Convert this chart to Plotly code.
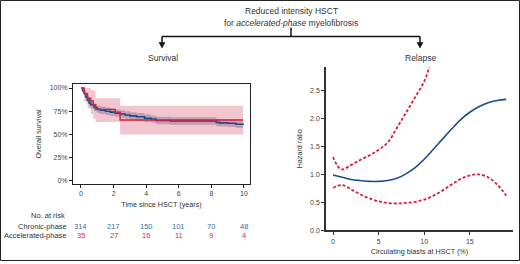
import plotly.graph_objects as go

W, H = 520, 264

# ---------------- Data ----------------
# Kaplan-Meier: chronic-phase
cp_time = [0, 0.1, 0.2, 0.3, 0.4, 0.5, 0.6, 0.8, 1.0, 1.2, 1.5, 1.8, 2.1, 2.4, 2.7, 3.0, 3.4, 3.9, 4.3, 4.6, 5.5, 6.5, 7.5, 8.3, 8.5, 9.0, 9.5, 9.95]
cp_surv = [100, 97, 94, 90, 87, 84, 82, 79, 77, 76, 75, 74, 73, 72, 71, 70, 69, 67.5, 66.5, 65, 64.5, 64.5, 64.5, 63, 62.5, 62, 61, 60.5]
cp_upper = [100, 99, 97, 94, 91, 88, 86, 83, 81, 80, 79, 78, 77, 76, 75, 74, 73, 71.5, 70.5, 69, 68.5, 68.5, 68.5, 67, 66.5, 66, 65, 64.5]
cp_lower = [100, 95, 91, 86, 83, 80, 78, 75, 73, 72, 71, 70, 69, 68, 67, 66, 65, 63.5, 62.5, 61, 60.5, 60.5, 60.5, 59, 58.5, 58, 57, 56.5]

# Kaplan-Meier: accelerated-phase
ap_time = [0, 0.2, 0.4, 0.6, 0.75, 0.9, 2.1, 2.4, 9.95]
ap_surv = [100, 94, 89, 86, 82, 77, 74, 65.5, 65.5]
ap_upper = [100, 100, 100, 98, 97, 89, 89, 81, 81]
ap_lower = [100, 85, 78, 72, 67, 63.5, 63.5, 50, 50]

# Number at risk
risk_times = [0, 2, 4, 6, 8, 10]
risk_chronic = [314, 217, 150, 101, 70, 48]
risk_accel = [35, 27, 16, 11, 9, 4]

# Hazard ratio vs circulating blasts
blasts = [0, 1, 2, 3, 4, 5, 6, 7, 8, 9, 10, 11, 12, 13, 14, 15, 16, 17, 18, 19]
hr = [0.99, 0.95, 0.91, 0.89, 0.875, 0.875, 0.89, 0.93, 1.01, 1.12, 1.27, 1.45, 1.63, 1.81, 1.98, 2.11, 2.21, 2.28, 2.32, 2.34]
hr_up_x = [0, 0.9, 2, 3, 4, 5, 6, 7, 8, 9, 10, 10.6, 11]
hr_upper = [1.31, 1.09, 1.17, 1.26, 1.34, 1.44, 1.57, 1.83, 2.1, 2.38, 2.66, 2.93, 3.1]
hr_lower = [0.76, 0.81, 0.73, 0.64, 0.57, 0.52, 0.49, 0.48, 0.49, 0.51, 0.55, 0.62, 0.71, 0.82, 0.92, 0.98, 1.0, 0.95, 0.82, 0.62]

# ---------------- Styles ----------------
BLUE = "#1b4f8a"
RED = "#d61f3c"
BLUE_TXT = "#2f6fa8"
RED_TXT = "#d42e4a"
TXT = "#333333"
FONT = "Liberation Sans, Arial, sans-serif"
NARROW = "Liberation Sans Narrow, Arial Narrow, Liberation Sans, sans-serif"

def px_x(p):
    return p / W

def px_y(p):
    return 1 - p / H

fig = go.Figure()

# Chronic band
fig.add_trace(go.Scatter(x=cp_time, y=cp_lower, mode="lines", line=dict(width=0, shape="hv"),
                         showlegend=False, hoverinfo="skip", xaxis="x", yaxis="y"))
fig.add_trace(go.Scatter(x=cp_time, y=cp_upper, mode="lines", line=dict(width=0, shape="hv"),
                         fill="tonexty", fillcolor="rgba(95,105,145,0.45)",
                         showlegend=False, hoverinfo="skip", xaxis="x", yaxis="y"))
# Accelerated band
fig.add_trace(go.Scatter(x=ap_time, y=ap_lower, mode="lines", line=dict(width=0, shape="hv"),
                         showlegend=False, hoverinfo="skip", xaxis="x", yaxis="y"))
fig.add_trace(go.Scatter(x=ap_time, y=ap_upper, mode="lines", line=dict(width=0, shape="hv"),
                         fill="tonexty", fillcolor="rgba(222,105,130,0.38)",
                         showlegend=False, hoverinfo="skip", xaxis="x", yaxis="y"))
# Curves
fig.add_trace(go.Scatter(x=cp_time, y=cp_surv, mode="lines", line=dict(color=BLUE, width=1.6, shape="hv"),
                         showlegend=False, xaxis="x", yaxis="y"))
fig.add_trace(go.Scatter(x=ap_time, y=ap_surv, mode="lines", line=dict(color=RED, width=1.4, shape="hv"),
                         showlegend=False, xaxis="x", yaxis="y"))

# Hazard ratio plot
fig.add_trace(go.Scatter(x=hr_up_x, y=hr_upper, mode="lines", line=dict(color=RED, width=1.8, dash="3px,2px", shape="spline"),
                         showlegend=False, xaxis="x2", yaxis="y2"))
fig.add_trace(go.Scatter(x=blasts, y=hr_lower, mode="lines", line=dict(color=RED, width=1.8, dash="3px,2px", shape="spline"),
                         showlegend=False, xaxis="x2", yaxis="y2"))
fig.add_trace(go.Scatter(x=blasts, y=hr, mode="lines", line=dict(color=BLUE, width=1.6, shape="spline"),
                         showlegend=False, xaxis="x2", yaxis="y2"))

tickfont = dict(family=FONT, size=7, color="#444444")
titlefont = dict(family=NARROW, size=7.2, color=TXT)

fig.update_layout(
    width=W, height=H,
    margin=dict(l=0, r=0, t=0, b=0),
    paper_bgcolor="white", plot_bgcolor="white",
    xaxis=dict(domain=[px_x(73), px_x(250)], range=[-0.49, 10.37], tickvals=[0, 2, 4, 6, 8, 10],
               showgrid=False, zeroline=False, showline=True, mirror=True, linecolor="#222222", linewidth=1,
               ticks="outside", ticklen=3, tickcolor="#222222", tickfont=tickfont,
               title=dict(text="Time since HSCT (years)", font=titlefont, standoff=5)),
    yaxis=dict(domain=[px_y(186), px_y(85)], range=[-3.2, 104.3], tickvals=[0, 25, 50, 75, 100],
               ticktext=["0%", "25%", "50%", "75%", "100%"], showgrid=False, zeroline=False, showline=True, mirror=True,
               linecolor="#222222", linewidth=1, ticks="outside", ticklen=3, tickcolor="#222222",
               tickfont=tickfont,
               title=dict(text="Overall survival", font=titlefont, standoff=7)),
    xaxis2=dict(domain=[px_x(326), px_x(513)], range=[-0.77, 19.74], tickvals=[0, 5, 10, 15],
                showgrid=False, zeroline=False, showline=True, linecolor="#333333", linewidth=1.5,
                ticks="outside", ticklen=3, tickcolor="#333333", tickfont=tickfont, anchor="y2",
                title=dict(text="Circulating blasts at HSCT (%)", font=titlefont, standoff=5)),
    yaxis2=dict(domain=[px_y(233), px_y(68)], range=[0, 2.915], tickvals=[0, 0.5, 1, 1.5, 2, 2.5],
                tickformat=".1f", showgrid=False, zeroline=False, showline=True, linecolor="#333333",
                linewidth=1.5, ticks="outside", ticklen=3, tickcolor="#333333", tickfont=tickfont,
                anchor="x2",
                title=dict(text="Hazard ratio", font=titlefont, standoff=7)),
)

annotations = []
def ann(text, x, y, size=8, color=TXT, xanchor="center", family=FONT, xref="paper"):
    annotations.append(dict(text=text, x=x if xref != "paper" else px_x(x), y=px_y(y), xref=xref, yref="paper",
                            showarrow=False, xanchor=xanchor, yanchor="middle",
                            font=dict(family=family, size=size, color=color)))

ann("Reduced intensity HSCT", 291, 11, size=8.5)
ann("for <i>accelerated-phase</i> myelofibrosis", 291, 23, size=8.5)
ann("Survival", 163, 59, size=8.5)
ann("Relapse", 420, 59, size=8.5)

ann("No. at risk", 67, 218, size=7.5, xanchor="right")
ann("Chronic-phase", 69, 229, size=7.5, xanchor="right")
ann("Accelerated-phase", 69, 238, size=7.5, xanchor="right")
for t, c, a in zip(risk_times, risk_chronic, risk_accel):
    ann(str(c), t, 229, size=7.5, color=BLUE_TXT, xref="x")
    ann(str(a), t, 238, size=7.5, color=RED_TXT, xref="x")

shapes = [
    # outer frame
    dict(type="rect", xref="paper", yref="paper", x0=px_x(0.5), x1=px_x(519.5), y0=px_y(263.5), y1=px_y(0.5),
         line=dict(color="#222222", width=1)),
    # tree connector
    dict(type="line", xref="paper", yref="paper", x0=px_x(291), x1=px_x(291), y0=px_y(28), y1=px_y(37),
         line=dict(color="#111111", width=1.5)),
    dict(type="line", xref="paper", yref="paper", x0=px_x(162), x1=px_x(420), y0=px_y(37), y1=px_y(37),
         line=dict(color="#111111", width=1.5)),
    dict(type="line", xref="paper", yref="paper", x0=px_x(162), x1=px_x(162), y0=px_y(37), y1=px_y(44),
         line=dict(color="#111111", width=1.5)),
    dict(type="line", xref="paper", yref="paper", x0=px_x(420), x1=px_x(420), y0=px_y(37), y1=px_y(44),
         line=dict(color="#111111", width=1.5)),
]
for xc in (162, 420):
    path = "M {} {} L {} {} L {} {} Z".format(px_x(xc - 3), px_y(43), px_x(xc + 3), px_y(43), px_x(xc), px_y(48.5))
    shapes.append(dict(type="path", xref="paper", yref="paper", path=path,
                       fillcolor="#111111", line=dict(color="#111111", width=0.5)))

fig.update_layout(annotations=annotations, shapes=shapes)

fig.write_html("out.html", config={"displayModeBar": False},
               post_script="document.body.style.margin='0';document.body.style.overflow='hidden';")
